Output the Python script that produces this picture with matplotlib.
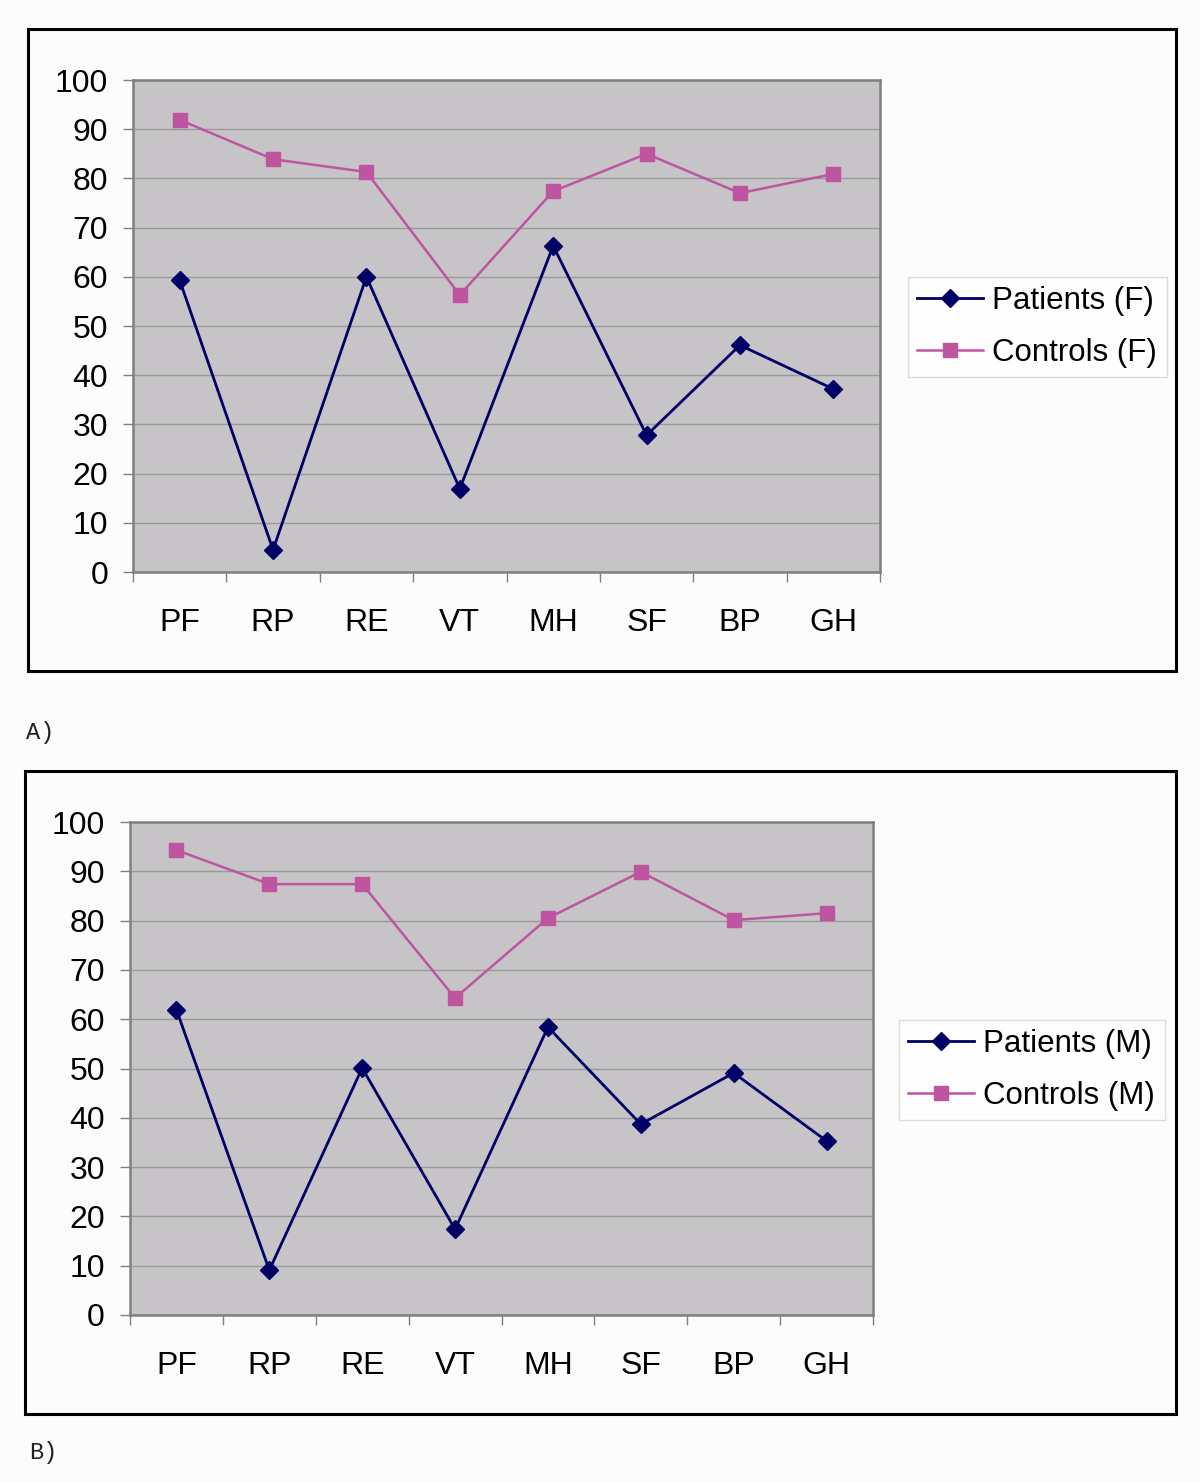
import matplotlib.pyplot as plt
from matplotlib.patches import Rectangle

plt.rcParams['font.family'] = ['Liberation Sans', 'DejaVu Sans']

categories = ['PF', 'RP', 'RE', 'VT', 'MH', 'SF', 'BP', 'GH']

# Panel A: females
patients_f = [59.3, 4.5, 60.0, 16.9, 66.3, 27.8, 46.1, 37.2]
controls_f = [91.9, 83.9, 81.3, 56.3, 77.4, 85.0, 77.0, 80.9]

# Panel B: males
patients_m = [61.9, 9.1, 50.1, 17.4, 58.4, 38.7, 49.1, 35.3]
controls_m = [94.3, 87.4, 87.4, 64.3, 80.5, 89.9, 80.1, 81.5]

W, H = 1200, 1482
PAT_COLOR = '#000066'
CON_COLOR = '#bf55a0'
BG = '#fcfcfc'


def px_rect(x0, y0, x1, y1):
    """ Convert pixel box (top-left origin) to figure fractions """
    return [x0 / W, 1 - y1 / H, (x1 - x0) / W, (y1 - y0) / H]


def draw_panel(fig, ax_box, frame_box, legend_xy, patients, controls, sex, tag, tag_xy):
    ax = fig.add_axes(px_rect(*ax_box))
    ax.set_facecolor('#c6c4c6')
    x = range(len(categories))
    ax.plot(x, patients, color=PAT_COLOR, lw=2.0, marker='D', ms=9,
            label=f'Patients ({sex})', zorder=3)
    ax.plot(x, controls, color=CON_COLOR, lw=1.8, marker='s', ms=10.5,
            label=f'Controls ({sex})', zorder=3)

    ax.set_xlim(-0.5, len(categories) - 0.5)
    ax.set_ylim(0, 100)
    ax.set_yticks(range(0, 101, 10))
    ax.yaxis.grid(True, color='#9a9a9a', lw=1)
    ax.set_axisbelow(True)
    ax.tick_params(axis='y', length=7, width=1, color='#808080',
                   labelsize=23, pad=11)

    ax.set_xticks(list(x))
    ax.set_xticklabels(categories)
    ax.set_xticks([i - 0.5 for i in range(len(categories) + 1)], minor=True)
    ax.tick_params(axis='x', which='major', length=0, labelsize=23, pad=26)
    ax.tick_params(axis='x', which='minor', length=7, width=1, color='#808080')

    for side, sp in ax.spines.items():
        sp.set_color('#808080')
        sp.set_linewidth(1.8)

    leg = ax.legend(loc='center left', bbox_to_anchor=(legend_xy[0] / W, 1 - legend_xy[1] / H),
                    bbox_transform=fig.transFigure,
                    fontsize=22.5, frameon=True, fancybox=False, handlelength=2.1,
                    handletextpad=0.3, labelspacing=0.68, borderpad=0.3,
                    borderaxespad=0)
    leg.get_frame().set_edgecolor('#d4d4d4')
    leg.get_frame().set_linewidth(1)
    leg.get_frame().set_facecolor('white')

    fig.patches.append(Rectangle(px_rect(*frame_box)[:2], *px_rect(*frame_box)[2:],
                                 transform=fig.transFigure, fill=False,
                                 edgecolor='black', lw=2.2, zorder=0))
    fig.text(tag_xy[0] / W, 1 - tag_xy[1] / H, tag, family='Liberation Mono',
             fontsize=17, va='center', ha='left', color='#222222')


fig = plt.figure(figsize=(W / 100, H / 100), dpi=100, facecolor=BG)

draw_panel(fig, (133, 80, 880, 572), (28, 29, 1176, 671), (908, 327),
           patients_f, controls_f, 'F', 'A)', (26, 732))
draw_panel(fig, (130, 822, 873, 1315), (25, 771, 1176, 1414), (899, 1070),
           patients_m, controls_m, 'M', 'B)', (29, 1452))

plt.savefig('out.png', dpi=100, facecolor=BG)
